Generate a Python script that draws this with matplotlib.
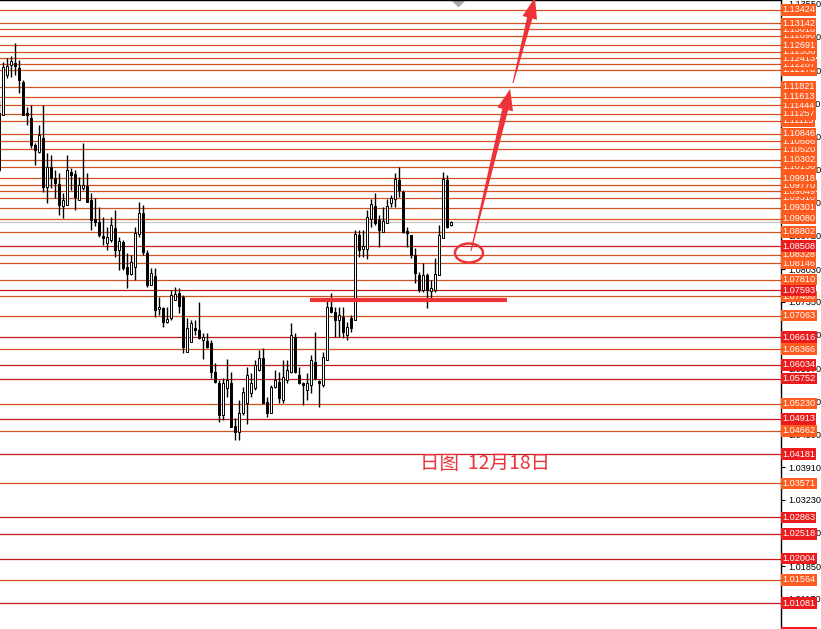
import numpy as np
import matplotlib
matplotlib.use('Agg')
import matplotlib.pyplot as plt
from matplotlib.patches import Polygon, Ellipse
from matplotlib.transforms import blended_transform_factory

plt.rcParams['font.family'] = ['Liberation Sans', 'DejaVu Sans']

# daily candles, first one is cut by the left edge
opens = [
    1.10091,
    1.11236, 1.12068, 1.12276, 1.12318, 1.12214, 1.11923, 1.11278, 1.11173, 1.10612, 1.10466,
    1.10757, 1.09738, 1.10154, 1.09925, 1.09800, 1.09342, 1.09363, 1.10050, 1.10008, 1.09467,
    1.09717, 1.09758, 1.09467, 1.09072, 1.09009, 1.08718, 1.08572, 1.08635, 1.08884, 1.08427,
    1.08593, 1.08073, 1.07927, 1.08073, 1.08759, 1.09196, 1.08364, 1.07698, 1.07885, 1.07199,
    1.07220, 1.06928, 1.07011, 1.07386, 1.07532, 1.07448, 1.06304, 1.06512, 1.06803, 1.06762,
    1.06554, 1.06533, 1.06491, 1.05888, 1.05659, 1.04993, 1.05555, 1.05659, 1.04764, 1.04639,
    1.05035, 1.05243, 1.05451, 1.05555, 1.05929, 1.06179, 1.05263, 1.05035, 1.05576, 1.05680,
    1.05305, 1.05721, 1.05888, 1.06616, 1.05825, 1.05659, 1.05513, 1.05617, 1.06096, 1.05700,
    1.05617, 1.06137, 1.07240, 1.07136, 1.06970, 1.07032, 1.06658, 1.07011, 1.06970, 1.08739,
    1.08447, 1.08447, 1.09072, 1.09342, 1.09051, 1.08801, 1.08988, 1.09405, 1.09488, 1.09883,
    1.09633, 1.08822, 1.08739, 1.08322, 1.07906, 1.07594, 1.07906, 1.07573, 1.07594, 1.07906,
    1.08676, 1.09883, 1.08947]
highs = [
    1.11548,
    1.12339, 1.12422, 1.12464, 1.12734, 1.12380, 1.11964, 1.11402, 1.11444, 1.10653, 1.11028,
    1.11444, 1.10445, 1.10403, 1.10091, 1.10029, 1.09613, 1.10403, 1.10133, 1.10091, 1.09946,
    1.10653, 1.10029, 1.09613, 1.09509, 1.09321, 1.09113, 1.08905, 1.09113, 1.09259, 1.08697,
    1.08635, 1.08364, 1.08322, 1.08905, 1.09425, 1.09363, 1.08427, 1.08052, 1.08052, 1.07448,
    1.07240, 1.07240, 1.07594, 1.07657, 1.07636, 1.07490, 1.07011, 1.06970, 1.06970, 1.07344,
    1.06699, 1.06699, 1.06554, 1.06075, 1.05721, 1.05763, 1.06158, 1.05888, 1.04930, 1.05305,
    1.05576, 1.05992, 1.05867, 1.06137, 1.06346, 1.06387, 1.05367, 1.05617, 1.05929, 1.05888,
    1.06137, 1.06137, 1.06907, 1.06699, 1.05992, 1.05680, 1.05867, 1.06241, 1.06720, 1.05721,
    1.06304, 1.07386, 1.07532, 1.07240, 1.07240, 1.07240, 1.06928, 1.07074, 1.08843, 1.08843,
    1.08843, 1.09259, 1.09488, 1.09613, 1.09155, 1.09321, 1.09488, 1.09571, 1.10029, 1.10154,
    1.09675, 1.08905, 1.08739, 1.08468, 1.07969, 1.08156, 1.07948, 1.07802, 1.08260, 1.08947,
    1.10050, 1.09987, 1.09030]
lows = [
    1.10050,
    1.11236, 1.12006, 1.12027, 1.12068, 1.11694, 1.11236, 1.11028, 1.10549, 1.10195, 1.10445,
    1.09633, 1.09405, 1.09717, 1.09509, 1.09155, 1.09092, 1.09363, 1.09675, 1.09259, 1.09467,
    1.09675, 1.09425, 1.08843, 1.08926, 1.08697, 1.08531, 1.08427, 1.08593, 1.08281, 1.08010,
    1.08010, 1.07636, 1.07906, 1.07802, 1.08697, 1.08322, 1.07657, 1.07698, 1.07032, 1.07074,
    1.06824, 1.06907, 1.06970, 1.07386, 1.07115, 1.06283, 1.06304, 1.06512, 1.06658, 1.06574,
    1.06158, 1.06387, 1.05763, 1.05659, 1.04847, 1.04889, 1.05367, 1.04743, 1.04473, 1.04473,
    1.04993, 1.04806, 1.05367, 1.05513, 1.05909, 1.05243, 1.04951, 1.05035, 1.05555, 1.05243,
    1.05243, 1.05659, 1.05867, 1.05867, 1.05638, 1.05201, 1.05305, 1.05451, 1.05721, 1.05159,
    1.05576, 1.06137, 1.07115, 1.06616, 1.06616, 1.06595, 1.06554, 1.06720, 1.06970, 1.08281,
    1.08281, 1.08239, 1.08905, 1.08947, 1.08489, 1.08801, 1.08988, 1.09321, 1.09321, 1.09529,
    1.08780, 1.08489, 1.08260, 1.07740, 1.07553, 1.07553, 1.07220, 1.07428, 1.07553, 1.07906,
    1.08676, 1.08884, 1.08926]
closes = [
    1.11278,
    1.12235, 1.12256, 1.12360, 1.12256, 1.11964, 1.11236, 1.11236, 1.10612, 1.10508, 1.10820,
    1.09738, 1.10154, 1.09925, 1.09821, 1.09363, 1.09467, 1.10091, 1.09987, 1.09529, 1.09779,
    1.09779, 1.09425, 1.09051, 1.09009, 1.08739, 1.08676, 1.08697, 1.08947, 1.08427, 1.08614,
    1.08052, 1.07927, 1.08177, 1.08780, 1.09196, 1.08385, 1.07698, 1.07948, 1.07178, 1.07240,
    1.06928, 1.06991, 1.07490, 1.07511, 1.07261, 1.06408, 1.06803, 1.06907, 1.06762, 1.06595,
    1.06616, 1.06408, 1.05888, 1.05680, 1.04993, 1.05659, 1.05721, 1.04743, 1.04639, 1.05035,
    1.05472, 1.05825, 1.05659, 1.06033, 1.06179, 1.05243, 1.05035, 1.05576, 1.05721, 1.05347,
    1.05784, 1.05929, 1.06658, 1.05888, 1.05659, 1.05617, 1.05659, 1.06137, 1.05763, 1.05659,
    1.06200, 1.07240, 1.07136, 1.06970, 1.07074, 1.06720, 1.06824, 1.06803, 1.08759, 1.08427,
    1.08510, 1.09113, 1.09384, 1.08988, 1.08843, 1.09030, 1.09342, 1.09509, 1.09904, 1.09675,
    1.08801, 1.08780, 1.08322, 1.07948, 1.07594, 1.07906, 1.07594, 1.07636, 1.07927, 1.08739,
    1.09904, 1.08905, 1.09009]

# horizontal levels drawn on the chart
orange_levels = [1.13424, 1.13142, 1.13018, 1.12890, 1.12691, 1.12556, 1.12413, 1.12287, 1.12178,
                 1.11821, 1.11613, 1.11444, 1.11257, 1.11115, 1.10846, 1.10686, 1.10520, 1.10302,
                 1.10158, 1.09918, 1.09770, 1.09649, 1.09510, 1.09301, 1.09080, 1.08802, 1.08328,
                 1.08146, 1.07810, 1.07460, 1.07063, 1.06366, 1.05230, 1.04662, 1.03571, 1.01564]
red_levels = [1.08508, 1.07593, 1.06616, 1.06034, 1.05752, 1.04913, 1.04181, 1.02863, 1.02518,
              1.02004, 1.01081, 1.00470]
axis_ticks = [1.13550, 1.12860, 1.12170, 1.11480, 1.10790, 1.10100, 1.09410, 1.08720, 1.08030,
              1.07350, 1.06660, 1.05970, 1.05280, 1.04590, 1.03910, 1.03230, 1.02540, 1.01850,
              1.01170]

# hand drawn marks
support_level = 1.07390
support_span = (76.7, 125.9)
circle_center = (116.4, 1.08364)
circle_size = (7.0, 0.00395)
arrow_one = ((116.9, 1.08406), (126.7, 1.11777))
arrow_two = ((127.4, 1.11902), (132.9, 1.13680))
note_text = '日图  12月18日'
note_pos = (104.2, 1.03994)

RED_MARK = '#EE3338'


def tapered_arrow(ax, tail, tip, tail_w, shaft_w, head_w, head_len, color):
	# widths in pixels, built in display space so the shape is not skewed
	tr = ax.transData
	t0 = tr.transform(tail)
	t1 = tr.transform(tip)
	d = t1 - t0
	u = d / np.hypot(*d)
	n = np.array([-u[1], u[0]])
	base = t1 - u * head_len
	pts = [t0 + n * tail_w / 2, base + n * shaft_w / 2, base + n * head_w / 2, t1,
	       base - n * head_w / 2, base - n * shaft_w / 2, t0 - n * tail_w / 2]
	ax.add_patch(Polygon(tr.inverted().transform(pts), closed=True, fc=color, ec='none', zorder=8))


fig = plt.figure(figsize=(8.21, 6.29), dpi=100)
ax = fig.add_axes([0, 0, 781 / 821, 1])
ax.set_xlim(-0.825, 194.4)
ax.set_ylim(1.00540, 1.13629)

o = np.array(opens)
h = np.array(highs)
l = np.array(lows)
c = np.array(closes)
idx = np.arange(-1, len(o) - 1)
up = c >= o

for p in orange_levels:
	ax.axhline(p, color='#D2531F', lw=0.9, zorder=2)
for p in red_levels:
	ax.axhline(p, color='#C41A1A', lw=0.9, zorder=2)
ax.axhline(c[-1], color='#C4C4C4', lw=0.9, zorder=1)

ax.vlines(idx, l, h, color='black', lw=1.0, zorder=3)
body_h = np.maximum(np.abs(c - o), 0.00012)
ax.bar(idx, body_h, bottom=np.minimum(o, c), width=0.55,
       color=np.where(up, 'white', 'black'), edgecolor='black', linewidth=0.7, zorder=4)

# annotations
ax.plot(support_span, [support_level, support_level], color=RED_MARK, lw=3, zorder=7,
        solid_capstyle='butt')
ax.add_patch(Ellipse(circle_center, circle_size[0], circle_size[1], fill=False,
                     ec=RED_MARK, lw=1.8, zorder=7))
tapered_arrow(ax, arrow_one[0], arrow_one[1], 1.0, 6.0, 16.0, 21.0, RED_MARK)
tapered_arrow(ax, arrow_two[0], arrow_two[1], 1.0, 5.5, 15.0, 21.0, RED_MARK)
ax.text(note_pos[0], note_pos[1], note_text, color=RED_MARK, fontsize=14,
        family=['Noto Sans CJK SC', 'DejaVu Sans'], va='center', ha='left', zorder=7)

# shift marker on the top edge
ax.plot([113.7], [1.0], marker='D', ms=6, color='#A8A8A8',
        transform=blended_transform_factory(ax.transData, ax.transAxes), clip_on=False)

# price axis
ax.yaxis.tick_right()
ax.set_yticks(axis_ticks)
ax.set_yticklabels(['%.5f' % t for t in axis_ticks])
ax.tick_params(axis='y', direction='out', length=3, width=0.8, pad=2, labelsize=6.6, colors='black')
ax.set_xticks([])
for s in ['left', 'bottom']:
	ax.spines[s].set_visible(False)
for s in ['top', 'right']:
	ax.spines[s].set_color('black')
	ax.spines[s].set_linewidth(1.0)

trans = blended_transform_factory(ax.transAxes, ax.transData)
levels = sorted([(p, '#FF5B1E') for p in orange_levels] + [(p, '#EC1C1E') for p in red_levels])
for i, (p, col) in enumerate(levels):
	ax.text(1.0015, p, '%.5f' % p, transform=trans, fontsize=6.6, color='white',
	        va='center', ha='left', zorder=10 + i, clip_on=False,
	        bbox=dict(boxstyle='square,pad=0.14', fc=col, ec='none'))

fig.savefig('out.png', dpi=100)
